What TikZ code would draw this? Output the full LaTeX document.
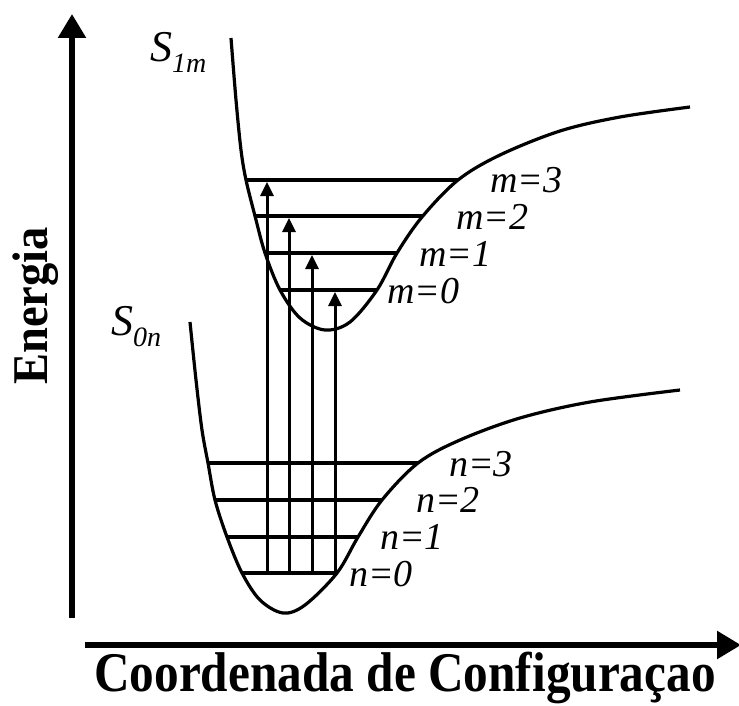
\documentclass[tikz,border=0pt]{standalone}
\usepackage{fontspec}
\setmainfont{Liberation Serif}
\usetikzlibrary{arrows.meta, positioning}

\begin{document}
\begin{tikzpicture}[
  x=1pt, y=-1pt,
  curve/.style={line width=3.2pt, line join=round},
  level/.style={line width=3.2pt},
  axis/.style={line width=5.5pt, -{Triangle[length=24pt,width=27pt]}},
  arrow/.style={line width=3pt, -{Triangle[length=14pt,width=13pt]}},
  lbl/.style={anchor=base west, inner sep=0pt, font=\fontsize{38}{42}\selectfont\itshape},
  slbl/.style={anchor=base west, inner sep=0pt, font=\fontsize{44}{48}\selectfont\itshape},
]
\useasboundingbox (0,0) rectangle (739,706);

% Axes
\coordinate (yo) at (72,618);
\coordinate (ytip) at (72,14);
\coordinate (xo) at (85,645);
\coordinate (xtip) at (741,645);
\draw[axis] (yo) -- (ytip);
\draw[axis] (xo) -- (xtip);
\node[rotate=90, font=\fontsize{50}{56}\selectfont\bfseries] (energia) at (36,306) {\scalebox{0.93}[1]{Energia}};
\node[anchor=base, inner sep=0pt, font=\fontsize{56}{60}\selectfont\bfseries] (coord) at (405,691) {\scalebox{0.88}[1]{Coordenada de Configuraçao}};

% Upper curve S1m
\draw[curve] plot[smooth, tension=0.55] coordinates {(231,38) (236,100) (241,150) (246,180) (255,216) (265,253) (280,290) (300,318) (325,330) (350,322) (377,290) (397,253) (422,217) (458,180) (500,155) (560,131) (620,117) (690,107)};
% Lower curve S0n
\draw[curve] plot[smooth, tension=0.55] coordinates {(190,322) (196,380) (202,430) (208,463) (215,500) (227,537) (242,573) (260,600) (283,613) (305,605) (337,573) (358,537) (382,500) (418,463) (460,440) (520,418) (590,402) (680,390)};

% Levels
\draw[level] (247,180) -- (458,180);
\draw[level] (255,216) -- (422,216);
\draw[level] (266,253) -- (397,253);
\draw[level] (281,290) -- (377,290);
\draw[level] (208,463) -- (418,463);
\draw[level] (215,500) -- (382,500);
\draw[level] (227,537) -- (358,537);
\draw[level] (242,573) -- (337,573);

% Labels
\node[slbl] (s1) at (150,62) {S\raisebox{-11pt}{\fontsize{28}{30}\selectfont 1m}};
\node[slbl] (s0) at (111,335) {S\raisebox{-11pt}{\fontsize{28}{30}\selectfont 0n}};
\node[lbl] (m3) at (490,193) {m=3};
\node[lbl] (m2) at (456,229) {m=2};
\node[lbl] (m1) at (419,266) {m=1};
\node[lbl] (m0) at (387,303) {m=0};
\node[lbl] (n3) at (449,476) {n=3};
\node[lbl] (n2) at (416,512) {n=2};
\node[lbl] (n1) at (380,549) {n=1};
\node[lbl] (n0) at (349,586) {n=0};

% Arrows
\foreach \x/\t [count=\i] in {267/182, 289/218, 312/255, 335/292}{
  \coordinate (a\i) at (\x,573);
  \coordinate (b\i) at (\x,\t);
  \draw[arrow] (a\i) -- (b\i);
}
\end{tikzpicture}
\end{document}
